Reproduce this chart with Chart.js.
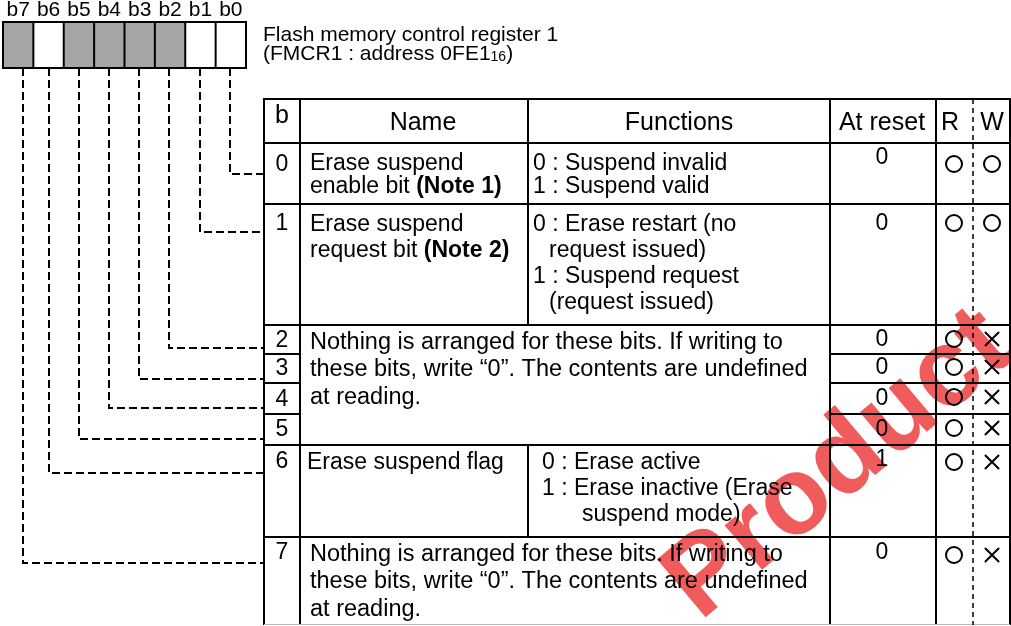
<!DOCTYPE html>
<html><head><meta charset="utf-8">
<script src="https://cdn.jsdelivr.net/npm/chart.js@4.4.1/dist/chart.umd.min.js"></script>
<style>html,body{margin:0;padding:0;background:#fff;overflow:hidden}#wrap{width:1011px;height:626px;position:relative}</style>
</head><body><div id="wrap"><canvas id="c" width="1011" height="626"></canvas></div>
<script>
// ---------- DATA ----------
const titleLine1 = 'Flash memory control register 1';
const titleLine2 = ['(FMCR1 : address 0FE1', '16', ')'];
const bitLabels = ['b7','b6','b5','b4','b3','b2','b1','b0'];
const bitShaded = [true,false,true,true,true,true,false,false];
const headers = ['b','Name','Functions','At reset','R','W'];
const bitNumbers = ['0','1','2','3','4','5','6','7'];
const resetValues = ['0','0','0','0','0','0','1','0'];
const readable = [true,true,true,true,true,true,true,true];
const writable = [true,true,false,false,false,false,false,false];
const nameRow0 = [[{t:'Erase suspend'}],[{t:'enable bit '},{t:'(Note 1)',b:true}]];
const nameRow1 = [[{t:'Erase suspend'}],[{t:'request bit '},{t:'(Note 2)',b:true}]];
const nameRow6 = [[{t:'Erase suspend flag'}]];
const funcRow0 = ['0 : Suspend invalid','1 : Suspend valid'];
const funcRow1 = ['0 : Erase restart (no','request issued)','1 : Suspend request','(request issued)'];
const funcRow6 = ['0 : Erase active','1 : Erase inactive (Erase','suspend mode)'];
const reservedText = ['Nothing is arranged for these bits. If writing to','these bits, write \u201C0\u201D. The contents are undefined','at reading.'];
const watermarkText = 'Product';

// ---------- LAYOUT (positions in scale units) ----------
const FONT = '"Liberation Sans", Arial, Helvetica, sans-serif';
const LAY = {
  box:{x0:3,x1:246,y0:22,y1:68}, labelY:10,
  title:{x:263,y1:35,y2:54},
  col:[264,300,528,830,936,973,1010],
  headTop:99, rows:[143,204,325,354,383,414,445,537,625],
  connX:[230,200,169,139,109,79,49,23],
  connY:[174,232,348,379,408,439,473,563],
  headY:123, bHeadY:116,
  headX:[282,423,679,882,950,992],
  bY:[165,224,341,369,400,430,462,553],
  resetY:[158,224,340,368,399,430,460,553],
  markY:[164,223,339,367,397,428,462,555],
  rX:954, wX:992, resetX:882, bX:282,
  nameX:[310,310,307], nameY:[[164,187],[225,251],[463]],
  funcX:[[533,533],[533,549,533,549],[542,542,582]],
  funcY:[[164,187],[225,251,277,303],[463,489,515]],
  resX:310, resY:[[343,370,398],[555,582,610]],
  wm:{x:700,y:622,angle:-40,size:110}
};

function rich(ctx, segs, x, y, size, align){
  let w = 0;
  segs.forEach(s=>{ctx.font=(s.b?'bold ':'')+size+'px '+FONT; w+=ctx.measureText(s.t).width;});
  let cx = align==='center' ? x - w/2 : x;
  ctx.textAlign='left';
  segs.forEach(s=>{ctx.font=(s.b?'bold ':'')+size+'px '+FONT; ctx.fillText(s.t,cx,y); cx+=ctx.measureText(s.t).width;});
}

const diagram = {
  id:'diagram',
  beforeDatasetsDraw(chart){
    const ctx = chart.ctx, sx = chart.scales.x, sy = chart.scales.y;
    const X = v=>sx.getPixelForValue(v), Y = v=>sy.getPixelForValue(v);
    ctx.save();
    // watermark
    ctx.save();
    ctx.translate(X(LAY.wm.x), Y(LAY.wm.y));
    ctx.rotate(LAY.wm.angle*Math.PI/180);
    ctx.font = 'bold '+LAY.wm.size+'px '+FONT;
    ctx.fillStyle = 'rgba(236,50,50,0.8)';
    ctx.textBaseline='alphabetic'; ctx.textAlign='left';
    ctx.fillText(watermarkText, 0, 0);
    ctx.restore();

    ctx.fillStyle='#000'; ctx.strokeStyle='#000'; ctx.textBaseline='middle';
    // bit boxes
    const bw = (LAY.box.x1-LAY.box.x0)/bitLabels.length;
    bitLabels.forEach((lab,i)=>{
      const x0 = X(LAY.box.x0+i*bw), x1 = X(LAY.box.x0+(i+1)*bw);
      if(bitShaded[i]){ctx.fillStyle='#a6a6a6'; ctx.fillRect(x0,Y(LAY.box.y0),x1-x0,Y(LAY.box.y1)-Y(LAY.box.y0));}
      ctx.fillStyle='#000';
      ctx.font='21px '+FONT; ctx.textAlign='center';
      ctx.fillText(lab,(x0+x1)/2,Y(LAY.labelY));
    });
    ctx.lineWidth=2;
    ctx.strokeRect(X(LAY.box.x0),Y(LAY.box.y0),X(LAY.box.x1)-X(LAY.box.x0),Y(LAY.box.y1)-Y(LAY.box.y0));
    for(let i=1;i<bitLabels.length;i++){
      const x = X(LAY.box.x0+i*bw);
      ctx.beginPath(); ctx.moveTo(x,Y(LAY.box.y0)); ctx.lineTo(x,Y(LAY.box.y1)); ctx.stroke();
    }
    // title
    ctx.textAlign='left';
    ctx.font='21px '+FONT; ctx.fillText(titleLine1,X(LAY.title.x),Y(LAY.title.y1));
    let tx = X(LAY.title.x);
    ctx.fillText(titleLine2[0],tx,Y(LAY.title.y2)); tx+=ctx.measureText(titleLine2[0]).width;
    ctx.font='14px '+FONT; ctx.fillText(titleLine2[1],tx,Y(LAY.title.y2)+3); tx+=ctx.measureText(titleLine2[1]).width;
    ctx.font='21px '+FONT; ctx.fillText(titleLine2[2],tx,Y(LAY.title.y2));
    // connectors
    ctx.setLineDash([8,4]); ctx.lineWidth=2;
    LAY.connX.forEach((cx,i)=>{
      ctx.beginPath(); ctx.moveTo(X(cx),Y(LAY.box.y1)); ctx.lineTo(X(cx),Y(LAY.connY[i])); ctx.lineTo(X(LAY.col[0]),Y(LAY.connY[i])); ctx.stroke();
    });
    ctx.setLineDash([]);
    // table lines
    const C = LAY.col, R = LAY.rows, top = LAY.headTop, bot = R[R.length-1];
    const line=(x0,y0,x1,y1)=>{ctx.beginPath();ctx.moveTo(X(x0),Y(y0));ctx.lineTo(X(x1),Y(y1));ctx.stroke();};
    ctx.lineWidth=2;
    line(C[0]-1,top,C[6]+1,top); line(C[0],R[0],C[6],R[0]);
    line(C[0],R[1],C[6],R[1]); line(C[0],R[2],C[6],R[2]);
    [3,4,5].forEach(k=>{line(C[0],R[k],C[1],R[k]); line(C[3],R[k],C[6],R[k]);});
    line(C[0],R[6],C[6],R[6]); line(C[0],R[7],C[6],R[7]);
    [0,1,3,4,6].forEach(k=>line(C[k],top,C[k],bot));
    line(C[2],top,C[2],R[2]); line(C[2],R[6],C[2],R[7]);
    ctx.save(); ctx.strokeStyle='#bbb'; ctx.lineWidth=1; line(C[0],bot-0.5,C[6],bot-0.5); ctx.restore();
    ctx.setLineDash([5,4]); ctx.lineWidth=1.5; line(C[5],top,C[5],bot); ctx.setLineDash([]);
    // headers
    ctx.fillStyle='#000';
    headers.forEach((h,i)=>{ctx.font='25px '+FONT; ctx.textAlign='center'; ctx.fillText(h,X(LAY.headX[i]),Y(i===0?LAY.bHeadY:LAY.headY));});
    // bit numbers & reset values
    bitNumbers.forEach((b,i)=>{
      ctx.font='23px '+FONT; ctx.textAlign='center';
      ctx.fillText(b,X(LAY.bX),Y(LAY.bY[i]));
      ctx.fillText(resetValues[i],X(LAY.resetX),Y(LAY.resetY[i]));
    });
    // names
    [nameRow0,nameRow1,nameRow6].forEach((rows,k)=>rows.forEach((segs,j)=>rich(ctx,segs,X(LAY.nameX[k]),Y(LAY.nameY[k][j]),23,'left')));
    // functions
    [funcRow0,funcRow1,funcRow6].forEach((rows,k)=>rows.forEach((t,j)=>{ctx.font='23px '+FONT; ctx.textAlign='left'; ctx.fillText(t,X(LAY.funcX[k][j]),Y(LAY.funcY[k][j]));}));
    // reserved text
    LAY.resY.forEach(ys=>ys.forEach((y,j)=>{ctx.font='23.5px '+FONT; ctx.textAlign='left'; ctx.fillText(reservedText[j],X(LAY.resX),Y(y));}));
    ctx.restore();
  }
};

const rPts = bitNumbers.map((b,i)=>readable[i]?{x:LAY.rX,y:LAY.markY[i]}:null).filter(Boolean);
const wOk = bitNumbers.map((b,i)=>writable[i]?{x:LAY.wX,y:LAY.markY[i]}:null).filter(Boolean);
const wNo = bitNumbers.map((b,i)=>!writable[i]?{x:LAY.wX,y:LAY.markY[i]}:null).filter(Boolean);

new Chart(document.getElementById('c'),{
  type:'scatter',
  data:{datasets:[
    {label:'R',data:rPts,pointStyle:'circle',pointRadius:8,borderColor:'#000',backgroundColor:'rgba(255,255,255,0)',borderWidth:2},
    {label:'W (writable)',data:wOk,pointStyle:'circle',pointRadius:8,borderColor:'#000',backgroundColor:'rgba(255,255,255,0)',borderWidth:2},
    {label:'W (not writable)',data:wNo,pointStyle:'crossRot',pointRadius:10,borderColor:'#000',borderWidth:2}
  ]},
  options:{
    responsive:false, animation:false, devicePixelRatio:1, events:[],
    layout:{padding:0, autoPadding:false},
    plugins:{legend:{display:false},tooltip:{enabled:false},title:{display:false}},
    scales:{
      x:{type:'linear',min:0,max:1011,display:false},
      y:{type:'linear',min:0,max:626,reverse:true,display:false}
    }
  },
  plugins:[diagram]
});
</script>
</body></html>
